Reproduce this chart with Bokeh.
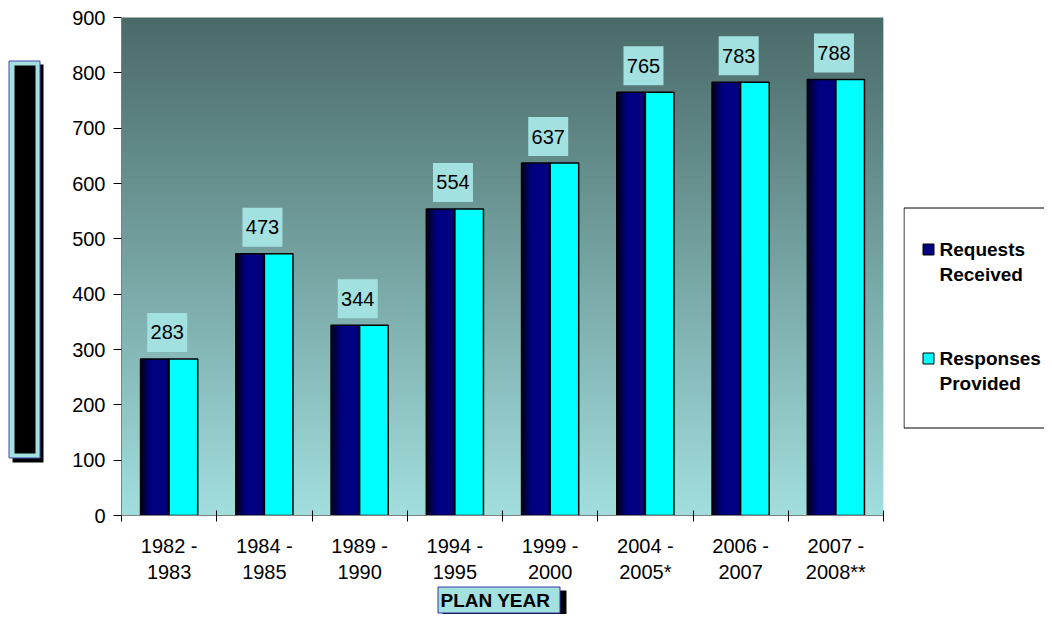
from bokeh.plotting import figure
from bokeh.models import Range1d, FixedTicker, Spacer
from bokeh.layouts import row, column
from bokeh.core.properties import value
from bokeh.embed import file_html
from bokeh.resources import INLINE
import numpy as np

# ---------------- data ----------------
categories = ["1982 -\n1983", "1984 -\n1985", "1989 -\n1990", "1994 -\n1995",
              "1999 -\n2000", "2004 -\n2005*", "2006 -\n2007", "2007 -\n2008**"]
requests_received = [283, 473, 344, 554, 637, 765, 783, 788]
responses_provided = [283, 473, 344, 554, 637, 765, 783, 788]
y_ticks = [0, 100, 200, 300, 400, 500, 600, 700, 800, 900]
legend_lines = [["Requests", "Received"], ["Responses", "Provided"]]
series_colors = ["#000080", "#00ffff"]
x_title = "PLAN YEAR"

FONT = "Liberation Sans"
N = len(categories)
YMAX = 900
TOP_H = 585
LABEL_BG = "#a3e0e0"
FRAME_TOP, FRAME_BOT = 17, 515   # pixel rows of the plot frame (row layout aligns frames)


def blank_fig(w, h, y0=0, y1=None):
    # pixel-like coordinates: y grows downward
    if y1 is None:
        y1 = h
    f = figure(width=w, height=h, x_range=Range1d(0, w), y_range=Range1d(y1, y0),
               output_backend="svg", toolbar_location=None,
               x_axis_location=None, y_axis_location=None,
               min_border=0, min_border_left=0, min_border_right=0,
               min_border_top=0, min_border_bottom=0)
    f.outline_line_color = None
    f.grid.visible = False
    f.background_fill_color = "white"
    f.border_fill_color = "white"
    return f


# ---------------- main plot ----------------
MAIN_W = 843
FRAME_H = FRAME_BOT - FRAME_TOP
p = figure(width=MAIN_W, height=TOP_H, x_range=Range1d(0, N), y_range=Range1d(0, YMAX),
           output_backend="svg", toolbar_location=None,
           min_border_left=61, min_border_right=20, min_border_top=FRAME_TOP,
           min_border_bottom=TOP_H - FRAME_BOT)
p.outline_line_color = None
p.background_fill_color = "white"
p.border_fill_color = "white"
p.grid.visible = False

# gradient background
n = 300
edges = np.linspace(0, YMAX, n + 1)
step = edges[1] - edges[0]
bottom_rgb = np.array([162, 222, 222])
top_rgb = np.array([74, 106, 104])
cols = []
for k in range(n):
    t = (k + 0.5) / n
    c = bottom_rgb * (1 - t) + top_rgb * t
    cols.append("#%02x%02x%02x" % tuple(int(round(v)) for v in c))
p.quad(left=0, right=N, bottom=edges[:-1], top=edges[1:] + step * 0.6,
       fill_color=cols, line_color=None)

# bars
xc = np.arange(N) + 0.5
bw = 0.30
p.vbar(x=xc - bw / 2, top=requests_received, width=bw, fill_color=series_colors[0], line_color=None)
ns = 8
sw = bw / 24
for k in range(ns):
    p.vbar(x=xc - bw + (k + 0.5) * sw, top=requests_received, width=sw * 1.05,
           fill_color="black", fill_alpha=0.8 * (1 - k / ns), line_color=None)
for k in range(2):
    p.vbar(x=xc - (k + 0.5) * sw, top=requests_received, width=sw * 1.05,
           fill_color="black", fill_alpha=0.35 * (1 - k / 2), line_color=None)
p.vbar(x=xc - bw / 2, top=requests_received, width=bw, fill_color=None,
       line_color="black", line_width=1.5)
p.vbar(x=xc + bw / 2, top=responses_provided, width=bw, fill_color=series_colors[1],
       line_color="black", line_width=1.5)

# data labels (box 40x39 px, 7 px above bar top)
ppu = FRAME_H / YMAX
lab_y = np.array(requests_received) + (7 + 19.5) / ppu
p.rect(x=xc - 0.02, y=lab_y, width=40, height=39, width_units="screen", height_units="screen",
       fill_color=LABEL_BG, line_color=None)
p.text(x=xc - 0.02, y=lab_y, text=[str(v) for v in requests_received],
       text_align="center", text_baseline="middle", text_font=value(FONT),
       text_font_size="20px", text_color="black")

# axes
ya = p.yaxis[0]
ya.ticker = FixedTicker(ticks=y_ticks)
ya.axis_line_color = "#808080"
ya.major_tick_line_color = "black"
ya.major_tick_out = 8
ya.major_tick_in = 0
ya.minor_tick_line_color = None
ya.major_label_text_font = FONT
ya.major_label_text_font_size = "20px"
ya.major_label_text_color = "black"
ya.major_label_standoff = 8

xa = p.xaxis[0]
xa.ticker = FixedTicker(ticks=list(xc), minor_ticks=list(range(N + 1)))
xa.major_label_overrides = {float(x): c for x, c in zip(xc, categories)}
xa.major_tick_line_color = None
xa.minor_tick_line_color = "black"
xa.minor_tick_in = 5
xa.minor_tick_out = 6
xa.axis_line_color = "#808080"
xa.major_label_text_font = FONT
xa.major_label_text_font_size = "20px"
xa.major_label_text_color = "black"
xa.major_label_standoff = 13

# ---------------- left empty title box ----------------
LEFT_W = 60
lf = blank_fig(LEFT_W, TOP_H, FRAME_TOP, FRAME_BOT)
lf.quad(left=12, right=43, top=64, bottom=462, fill_color="black", line_color=None)
lf.quad(left=8.5, right=39.5, top=60.5, bottom=457.5, fill_color=LABEL_BG,
        line_color="#4444aa", line_width=1)
lf.quad(left=14, right=35, top=65, bottom=453, fill_color="black", line_color=None)

# ---------------- legend ----------------
LEG_W = 141
gf = blank_fig(LEG_W, TOP_H, FRAME_TOP, FRAME_BOT)
gf.quad(left=0.5, right=LEG_W + 20, top=207.5, bottom=427.5, fill_color="white",
        line_color="black", line_width=1)
entry_y = [249, 358]
for col, lines, ey in zip(series_colors, legend_lines, entry_y):
    gf.quad(left=19.5, right=30.5, top=ey - 5.5, bottom=ey + 5.5, fill_color=col,
            line_color="black", line_width=1)
    gf.text(x=[36, 36], y=[ey, ey + 25], text=lines, text_align="left", text_baseline="middle",
            text_font=value(FONT), text_font_size="19px", text_font_style="bold",
            text_color="black")

# ---------------- x title box ----------------
TT_W, TT_H = 140, 29
tf = blank_fig(TT_W, TT_H)
tf.quad(left=12, right=136, top=5, bottom=31, fill_color="black", line_color=None)
tf.quad(left=7.5, right=129.5, top=1.5, bottom=27.5, fill_color=LABEL_BG,
        line_color="#3333aa", line_width=1)
tf.text(x=[10], y=[14.5], text=[x_title], text_align="left", text_baseline="middle",
        text_font=value(FONT), text_font_size="19px", text_font_style="bold", text_color="black")

layout = column(row(lf, p, gf), row(Spacer(width=430, height=TT_H), tf))

open("out.html", "w").write(file_html(layout, INLINE))
